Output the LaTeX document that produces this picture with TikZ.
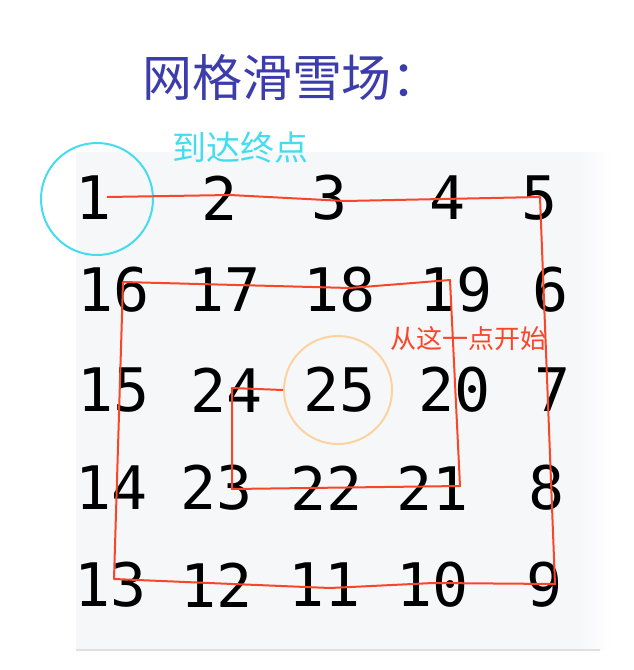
\documentclass[tikz,border=0pt]{standalone}
\usepackage{fontspec}
\usetikzlibrary{positioning}
\newfontfamily\cjk{Noto Sans CJK SC}
\newfontfamily\gridmono{DejaVu Sans Mono}
\definecolor{skired}{RGB}{250,70,40}
\definecolor{skicyan}{RGB}{70,220,240}
\definecolor{skiorange}{RGB}{252,210,160}
\definecolor{skititle}{RGB}{60,60,170}
\definecolor{skibg}{RGB}{246,247,249}
\tikzset{
  num/.style={inner sep=0pt,font=\gridmono\fontsize{60}{60}\selectfont},
  note/.style={inner sep=0pt,font=\cjk\fontsize{26}{26}\selectfont}
}

\begin{document}
\begin{tikzpicture}[x=1pt,y=-1pt]
  \useasboundingbox (0,0) rectangle (634,670);
  % background of the grid
  \fill[skibg] (76,152) rectangle (578,650);
  \shade[left color=skibg,right color=white] (577,152) rectangle (612,650);
  \draw[black!12,line width=1.5pt] (76,650) -- (600,650);

  % title
  \node[inner sep=0pt,text=skititle,font=\cjk\fontsize{50}{50}\selectfont] (title) at (292,78) {网格滑雪场：};

  % numbers
  \node[num] (n1) at (94,198) {1};
  \node[num] (n2) at (220,198) {2};
  \node[num] (n3) at (330,198) {3};
  \node[num] (n4) at (448,198) {4};
  \node[num] (n5) at (540,198) {5};
  \node[num] (n16) at (114,290) {16};
  \node[num] (n17) at (225,290) {17};
  \node[num] (n18) at (340,290) {18};
  \node[num] (n19) at (456,290) {19};
  \node[num] (n6) at (551,290) {6};
  \node[num] (n15) at (114,390) {15};
  \node[num] (n24) at (227,390) {24};
  \node[num] (n25) at (340,390) {25};
  \node[num] (n20) at (455,390) {20};
  \node[num] (n7) at (553,390) {7};
  \node[num] (n14) at (112,488) {14};
  \node[num] (n23) at (217,488) {23};
  \node[num] (n22) at (327,488) {22};
  \node[num] (n21) at (433,488) {21};
  \node[num] (n8) at (547,488) {8};
  \node[num] (n13) at (111,585) {13};
  \node[num] (n12) at (217,585) {12};
  \node[num] (n11) at (325,585) {11};
  \node[num] (n10) at (433,585) {10};
  \node[num] (n9) at (545,585) {9};

  % marks for start and end
  \node[draw=skicyan,line width=2pt,circle,minimum size=112pt] (goal) at (97,199) {};
  \node[draw=skiorange,line width=2pt,circle,minimum size=108pt] (start) at (338,390) {};
  \node[note,text=skicyan,font=\cjk\fontsize{34}{34}\selectfont] (goaltxt) at (240,148) {到达终点};
  \node[note,text=skired] (starttxt) at (468,339) {从这一点开始};

  % corners of the run
  \coordinate (c1) at ([xshift=13pt,yshift=1pt]n1.center);
  \coordinate (c5) at ([yshift=1pt]n5.center);
  \coordinate (c9) at ([xshift=10pt,yshift=1pt]n9.center);
  \coordinate (c13) at ([xshift=3pt,yshift=6pt]n13.center);
  \coordinate (c16) at ([xshift=9pt,yshift=8pt]n16.center);
  \coordinate (c19) at ([xshift=-6pt,yshift=10pt]n19.center);
  \coordinate (c21) at ([xshift=27pt,yshift=2pt]n21.center);
  \coordinate (c23) at ([xshift=15pt,yshift=-1pt]n23.center);
  \coordinate (c24) at ([xshift=5pt,yshift=2pt]n24.center);

  % the ski run
  \draw[skired,line width=2pt,line join=round]
    (c1) -- ([xshift=10pt,yshift=3pt]n2.center) -- ([xshift=15pt,yshift=-3pt]n3.center)
    -- (c5) -- (c9) -- ([yshift=2pt]n10.center) -- ([xshift=5pt,yshift=-3pt]n11.center)
    -- ([xshift=16pt,yshift=1pt]n12.center) -- (c13) -- (c16)
    -- ([xshift=10pt,yshift=2pt]n18.center) -- (c19) -- (c21) -- (c23) -- (c24)
    -- (start.west);
\end{tikzpicture}
\end{document}
